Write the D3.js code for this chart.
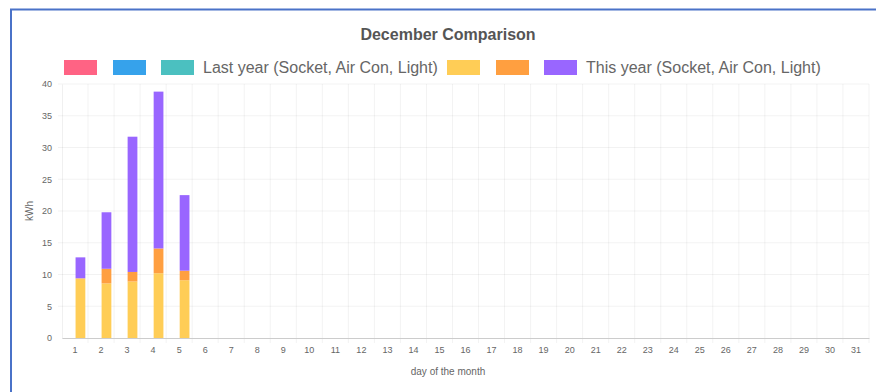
<!DOCTYPE html>
<html>
<head>
<meta charset="utf-8">
<script src="https://cdn.jsdelivr.net/npm/d3@7"></script>
<style>
body{margin:0;background:#fff;}
svg{display:block;font-family:"Liberation Sans",Arial,sans-serif;}
</style>
</head>
<body>
<svg width="876" height="392"></svg>
<script>
// december data, kWh per day
var days = d3.range(1,32);
var lastSocket = [];
var lastAircon = [];
var lastLight = [];
var thisSocket = [9.4, 8.6, 8.9, 10.2, 9.1];
var thisAircon = [0, 2.3, 1.5, 3.9, 1.5];
var thisLight = [3.3, 8.9, 21.3, 24.7, 11.9];
var yTicks = [0,5,10,15,20,25,30,35,40];

var svg = d3.select('svg');
svg.append('rect').attr('width',876).attr('height',392).attr('fill','#fff');

var xg = d3.scaleBand().domain(days).range([62,869]);
// two stacks per day: last year / this year
var xs = d3.scaleBand().domain(['last','this']).range([0,xg.bandwidth()]).paddingOuter(0.25).paddingInner(0.1);
var y = d3.scaleLinear().domain([0,40]).range([338,84]);

// grid
svg.append('g').selectAll('line').data(days).enter().append('line')
  .attr('x1',function(d){return xg(d)+xg.bandwidth();}).attr('x2',function(d){return xg(d)+xg.bandwidth();})
  .attr('y1',84).attr('y2',343).attr('stroke','rgba(0,0,0,0.05)');
svg.append('g').selectAll('line').data(yTicks.slice(1)).enter().append('line')
  .attr('x1',58).attr('x2',869).attr('y1',function(d){return y(d);}).attr('y2',function(d){return y(d);})
  .attr('stroke','rgba(0,0,0,0.05)');

// stacked bars
function drawStack(group, sock, air, light, cols){
  var rows = days.map(function(d,i){
    return {day:d, s:sock[i]||0, a:air[i]||0, l:light[i]||0};
  });
  var st = d3.stack().keys(['s','a','l'])(rows);
  svg.append('g').selectAll('g').data(st).enter().append('g')
    .attr('fill',function(d){return cols[d.key];})
    .selectAll('rect').data(function(d){return d;}).enter().append('rect')
    .attr('x',function(d){return xg(d.data.day)+xs(group);})
    .attr('width',xs.bandwidth())
    .attr('y',function(d){return y(d[1]);})
    .attr('height',function(d){return y(d[0])-y(d[1]);});
}
drawStack('last', lastSocket, lastAircon, lastLight, {s:'rgb(255,99,132)', a:'rgb(54,162,235)', l:'rgb(75,192,192)'});
drawStack('this', thisSocket, thisAircon, thisLight, {s:'rgb(255,205,86)', a:'rgb(255,159,64)', l:'rgb(153,102,255)'});

// axes
var ax = svg.append('g').attr('transform','translate(0,338)')
  .call(d3.axisBottom(xg).tickSize(0).tickPadding(9));
ax.select('.domain').attr('stroke','#ccc');
ax.selectAll('text').attr('fill','#666').attr('font-size',9);
var ay = svg.append('g').attr('transform','translate(62,0)')
  .call(d3.axisLeft(y).tickValues(yTicks).tickSize(0).tickPadding(10));
ay.select('.domain').attr('stroke','rgba(0,0,0,0.06)');
ay.selectAll('text').attr('fill','#666').attr('font-size',9);

svg.append('text').attr('x',448).attr('y',375).attr('text-anchor','middle')
  .attr('font-size',10).attr('fill','#666').text('day of the month');
svg.append('text').attr('transform','translate(33,211) rotate(-90)').attr('text-anchor','middle')
  .attr('font-size',10).attr('fill','#666').text('kWh');

// title
svg.append('text').attr('x',448).attr('y',40).attr('text-anchor','middle')
  .attr('font-size',16).attr('font-weight','bold').attr('fill','#555').text('December Comparison');

// legend
var legend = [
  {c:'rgb(255,99,132)', x:64, t:''},
  {c:'rgb(54,162,235)', x:113, t:''},
  {c:'rgb(75,192,192)', x:161, t:'Last year (Socket, Air Con, Light)'},
  {c:'rgb(255,205,86)', x:447, t:''},
  {c:'rgb(255,159,64)', x:496, t:''},
  {c:'rgb(153,102,255)', x:544, t:'This year (Socket, Air Con, Light)'}
];
var lg = svg.append('g').selectAll('g').data(legend).enter().append('g');
lg.append('rect').attr('x',function(d){return d.x;}).attr('y',60).attr('width',33).attr('height',15)
  .attr('fill',function(d){return d.c;});
lg.append('text').attr('x',function(d){return d.x+42;}).attr('y',73).attr('font-size',16)
  .attr('fill','#666').text(function(d){return d.t;});

// frame
svg.append('line').attr('x1',10).attr('x2',876).attr('y1',9.5).attr('y2',9.5).attr('stroke','#4a72c8').attr('stroke-width',2);
svg.append('line').attr('x1',11).attr('x2',11).attr('y1',9).attr('y2',392).attr('stroke','#4a72c8').attr('stroke-width',2);
</script>
</body>
</html>
